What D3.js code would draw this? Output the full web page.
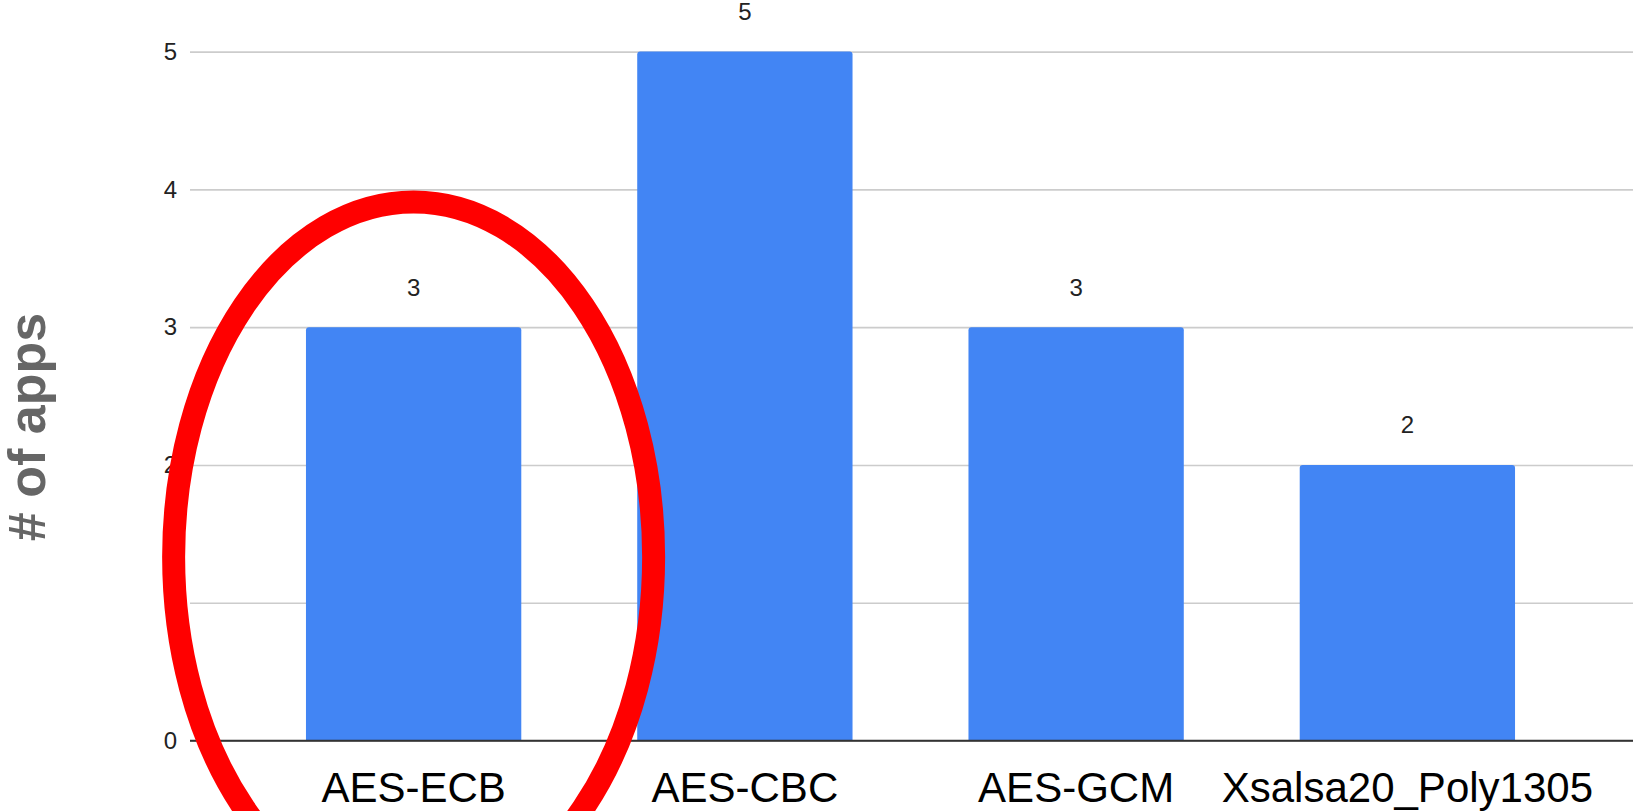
<!DOCTYPE html>
<html>
<head>
<meta charset="utf-8">
<script src="https://cdn.jsdelivr.net/npm/d3@7"></script>
<style>
  html, body { margin: 0; padding: 0; background: #fff; }
  svg { display: block; font-family: 'Liberation Sans', Arial, sans-serif; }
</style>
</head>
<body>
<div id="chart-container"></div>
<script>
const w = 1633;
const h = 811;

// data
const categories = ['AES-ECB', 'AES-CBC', 'AES-GCM', 'Xsalsa20_Poly1305'];
const appCounts = [3, 5, 3, 2];
const yTicks = [0, 1, 2, 3, 4, 5];
const yTitle = '# of apps';
const highlighted = 'AES-ECB';

const xScale = d3
  .scaleBand()
  .domain(categories)
  .range([248, 1573])
  .paddingInner(0.35)
  .paddingOuter(0.175);

const yScale = d3.scaleLinear().domain([0, 5]).range([740.5, 51.6]);

const svg = d3
  .select('#chart-container')
  .append('svg')
  .attr('width', w)
  .attr('height', h);

// gridlines + tick labels
const yAxis = d3
  .axisLeft(yScale)
  .tickValues(yTicks)
  .tickSize(-(w - 190))
  .tickPadding(13)
  .tickFormat(d3.format('d'));

const yg = svg
  .append('g')
  .attr('id', 'y-axis')
  .attr('transform', 'translate(190,0)')
  .call(yAxis);
yg.select('.domain').remove();
yg.selectAll('.tick line')
  .attr('stroke', (d) => (d === 0 ? '#333' : '#cccccc'))
  .attr('stroke-width', 1.6);
yg.selectAll('.tick text')
  .attr('fill', '#222')
  .style('font-size', '24px');

// bars with rounded tops
const r = 3;
const barPath = (d, i) => {
  const x0 = xScale(categories[i]);
  const x1 = x0 + xScale.bandwidth();
  const y0 = yScale(0);
  const y1 = yScale(d);
  return `M${x0},${y0}V${y1 + r}Q${x0},${y1} ${x0 + r},${y1}H${x1 - r}Q${x1},${y1} ${x1},${y1 + r}V${y0}Z`;
};

svg
  .append('g')
  .selectAll('path')
  .data(appCounts)
  .enter()
  .append('path')
  .attr('d', barPath)
  .attr('fill', '#4285f4');

// baseline on top of bars
svg
  .append('line')
  .attr('x1', 190)
  .attr('x2', w)
  .attr('y1', yScale(0))
  .attr('y2', yScale(0))
  .attr('stroke', '#333')
  .attr('stroke-width', 1.6);

// value labels
svg
  .append('g')
  .selectAll('text')
  .data(appCounts)
  .enter()
  .append('text')
  .attr('x', (d, i) => xScale(categories[i]) + xScale.bandwidth() / 2)
  .attr('y', (d) => yScale(d) - 40)
  .attr('dy', '0.35em')
  .attr('text-anchor', 'middle')
  .attr('fill', '#222')
  .style('font-size', '24px')
  .text((d) => d);

// category labels
svg
  .append('g')
  .selectAll('text')
  .data(categories)
  .enter()
  .append('text')
  .attr('x', (d) => xScale(d) + xScale.bandwidth() / 2)
  .attr('y', 802)
  .attr('text-anchor', 'middle')
  .attr('fill', '#000')
  .style('font-size', '42px')
  .text((d) => d);

// y axis title
svg
  .append('text')
  .attr('transform', 'translate(45,427) rotate(-90)')
  .attr('text-anchor', 'middle')
  .attr('fill', '#666')
  .style('font-size', '52px')
  .style('font-weight', 'bold')
  .text(yTitle);

// red ellipse drawn around the highlighted bar
svg
  .append('ellipse')
  .attr('cx', xScale(highlighted) + xScale.bandwidth() / 2)
  .attr('cy', 557)
  .attr('rx', 240)
  .attr('ry', 355)
  .attr('fill', 'none')
  .attr('stroke', '#ff0000')
  .attr('stroke-width', 23);
</script>
</body>
</html>
